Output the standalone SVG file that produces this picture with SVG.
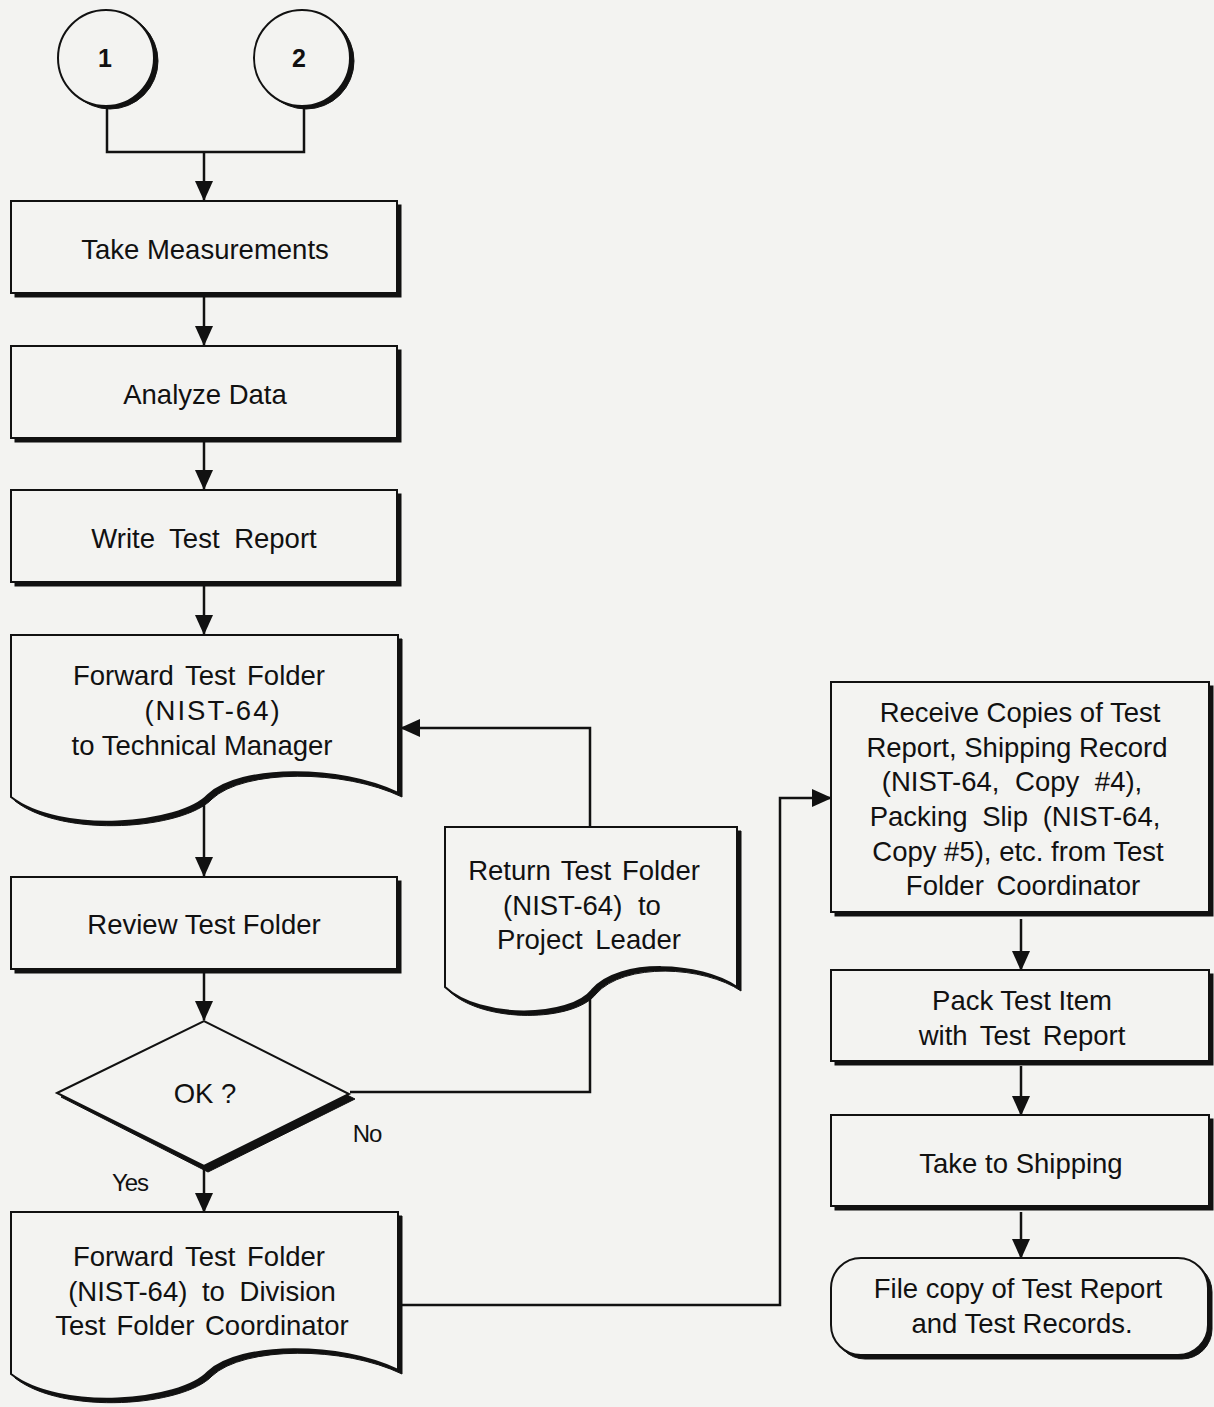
<svg xmlns="http://www.w3.org/2000/svg" width="1214" height="1407" viewBox="0 0 1214 1407">
<defs>
<style>
.bg{fill:#f3f3f1}
.n{fill:#f3f3f1;stroke:#111;stroke-width:2}
.sh{fill:#111;stroke:#111;stroke-width:1}
.t{font-family:"Liberation Sans",Arial,sans-serif;font-size:27.5px;fill:#111;text-anchor:middle}
.lab{font-family:"Liberation Sans",Arial,sans-serif;font-size:24px;fill:#111;text-anchor:middle;letter-spacing:-1px}
.num{font-family:"Liberation Sans",Arial,sans-serif;font-size:25px;font-weight:bold;fill:#111;text-anchor:middle}
.c{fill:none;stroke:#111;stroke-width:2.5}
</style>
<marker id="ah" markerWidth="20" markerHeight="18" refX="19" refY="9" orient="auto" markerUnits="userSpaceOnUse">
<path d="M0,0 L20,9 L0,18 Z" fill="#111"/>
</marker>
</defs>
<rect class="bg" x="0" y="0" width="1214" height="1407"/>

<g id="connectors">
<path class="c" d="M107,106 V152 H304 V106"/>
<path class="c" d="M204,152 V200" marker-end="url(#ah)"/>
<path class="c" d="M204,297 V345" marker-end="url(#ah)"/>
<path class="c" d="M204,441 V489" marker-end="url(#ah)"/>
<path class="c" d="M204,586 V634" marker-end="url(#ah)"/>
<path class="c" d="M204,800 V876" marker-end="url(#ah)"/>
<path class="c" d="M204,973 V1020" marker-end="url(#ah)"/>
<path class="c" d="M204,1168 V1212" marker-end="url(#ah)"/>
<path class="c" d="M350,1092 H590 V992"/>
<path class="c" d="M590,827 V728 H401" marker-end="url(#ah)"/>
<path class="c" d="M401,1305 H780 V798 H831" marker-end="url(#ah)"/>
<path class="c" d="M1021,919 V970" marker-end="url(#ah)"/>
<path class="c" d="M1021,1066 V1115" marker-end="url(#ah)"/>
<path class="c" d="M1021,1212 V1258" marker-end="url(#ah)"/>
</g>

<g id="conn1">
<circle class="sh" cx="110" cy="61" r="48"/>
<circle class="n" cx="106" cy="58" r="48"/>
<text class="num" x="105" y="67">1</text>
</g>
<g id="conn2">
<circle class="sh" cx="306" cy="61" r="48"/>
<circle class="n" cx="302" cy="58" r="48"/>
<text class="num" x="299" y="67">2</text>
</g>

<g id="take-measurements">
<rect class="sh" x="15" y="205" width="386" height="92"/>
<rect class="n" x="11" y="201" width="386" height="92"/>
<text class="t" x="205" y="259">Take Measurements</text>
</g>
<g id="analyze-data">
<rect class="sh" x="15" y="350" width="386" height="92"/>
<rect class="n" x="11" y="346" width="386" height="92"/>
<text class="t" x="205" y="404">Analyze Data</text>
</g>
<g id="write-test-report">
<rect class="sh" x="15" y="494" width="386" height="92"/>
<rect class="n" x="11" y="490" width="386" height="92"/>
<text class="t" x="204" y="548" word-spacing="7">Write Test Report</text>
</g>

<g id="forward-tm">
<path class="sh" transform="translate(4,4)" d="M11,635 H398 V793 C340,765 240,765 208,795 C180,825 60,835 11,797 Z"/>
<path class="n" d="M11,635 H398 V793 C340,765 240,765 208,795 C180,825 60,835 11,797 Z"/>
<text class="t" x="199" y="685" word-spacing="4">Forward Test Folder</text>
<text class="t" x="213" y="720" letter-spacing="2">(NIST-64)</text>
<text class="t" x="202" y="755">to Technical Manager</text>
</g>

<g id="review-test-folder">
<rect class="sh" x="15" y="881" width="386" height="92"/>
<rect class="n" x="11" y="877" width="386" height="92"/>
<text class="t" x="204" y="934">Review Test Folder</text>
</g>

<g id="ok-decision">
<polygon class="sh" points="61,1097 208,1025 355,1099 208,1172"/>
<polygon class="n" points="57,1093 204,1021 349,1094 204,1166"/>
<text class="t" x="205" y="1103">OK ?</text>
</g>
<text class="lab" x="130" y="1191">Yes</text>
<text class="lab" x="367" y="1142">No</text>

<g id="forward-division">
<path class="sh" transform="translate(4,581)" d="M11,635 H398 V793 C340,765 240,765 208,795 C180,825 60,835 11,797 Z"/>
<path class="n" transform="translate(0,577)" d="M11,635 H398 V793 C340,765 240,765 208,795 C180,825 60,835 11,797 Z"/>
<text class="t" x="199" y="1266" word-spacing="4">Forward Test Folder</text>
<text class="t" x="202" y="1301" word-spacing="7">(NIST-64) to Division</text>
<text class="t" x="202" y="1335" word-spacing="3">Test Folder Coordinator</text>
</g>

<g id="return-folder">
<path class="sh" transform="translate(4,4)" d="M445,827 H737 V987 C700,962 620,958 592,990 C570,1018 480,1020 445,987 Z"/>
<path class="n" d="M445,827 H737 V987 C700,962 620,958 592,990 C570,1018 480,1020 445,987 Z"/>
<text class="t" x="584" y="880" word-spacing="3">Return Test Folder</text>
<text class="t" x="582" y="915" word-spacing="8">(NIST-64) to</text>
<text class="t" x="589" y="949" word-spacing="5">Project Leader</text>
</g>

<g id="receive-copies">
<rect class="sh" x="835" y="686" width="378" height="230"/>
<rect class="n" x="831" y="682" width="378" height="230"/>
<text class="t" x="1020" y="722">Receive Copies of Test</text>
<text class="t" x="1017" y="757">Report, Shipping Record</text>
<text class="t" x="1012" y="791" word-spacing="8">(NIST-64, Copy #4),</text>
<text class="t" x="1015" y="826" word-spacing="7">Packing Slip (NIST-64,</text>
<text class="t" x="1018" y="861">Copy #5), etc. from Test</text>
<text class="t" x="1023" y="895" word-spacing="5">Folder Coordinator</text>
</g>

<g id="pack-test-item">
<rect class="sh" x="835" y="974" width="378" height="91"/>
<rect class="n" x="831" y="970" width="378" height="91"/>
<text class="t" x="1022" y="1010">Pack Test Item</text>
<text class="t" x="1022" y="1045" word-spacing="5">with Test Report</text>
</g>

<g id="take-to-shipping">
<rect class="sh" x="835" y="1119" width="378" height="91"/>
<rect class="n" x="831" y="1115" width="378" height="91"/>
<text class="t" x="1021" y="1173">Take to Shipping</text>
</g>

<g id="file-copy">
<rect class="sh" x="835" y="1262" width="377" height="97" rx="30"/>
<rect class="n" x="831" y="1258" width="377" height="97" rx="30"/>
<text class="t" x="1018" y="1298">File copy of Test Report</text>
<text class="t" x="1022" y="1333">and Test Records.</text>
</g>
</svg>
